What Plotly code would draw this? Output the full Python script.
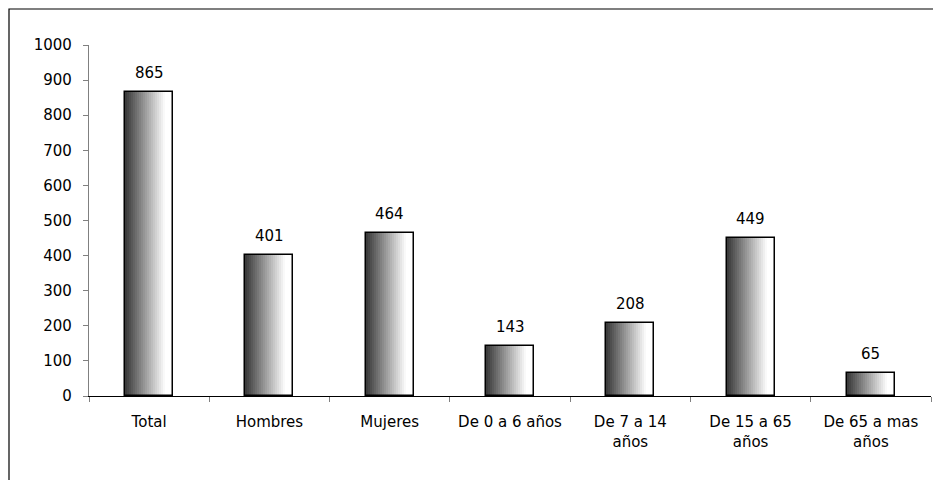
import plotly.graph_objects as go

categories = ["Total", "Hombres", "Mujeres", "De 0 a 6 años", "De 7 a 14<br>años",
              "De 15 a 65<br>años", "De 65 a mas<br>años"]
values = [865, 401, 464, 143, 208, 449, 65]
y_ticks = [0, 100, 200, 300, 400, 500, 600, 700, 800, 900, 1000]

FONT = "DejaVu Sans, Liberation Sans, Arial, sans-serif"
FS = 15
bw = 0.40
N = 24

fig = go.Figure()

# gradient strips (dark left -> white right)
for i in range(N):
    t = i / (N - 1)
    g = int(min(255, 0x3c + (255 - 0x3c) * min(1.0, t / 0.85)))
    col = f"rgb({g},{g},{g})"
    fig.add_trace(go.Bar(
        x=categories, y=values,
        width=bw / N * 1.15, offset=-bw / 2 + i * bw / N,
        marker=dict(color=col, line=dict(width=0)),
        hoverinfo="skip", showlegend=False,
    ))

# outline
fig.add_trace(go.Bar(
    x=categories, y=values, width=bw, offset=-bw / 2,
    marker=dict(color="rgba(0,0,0,0)", line=dict(color="black", width=1.5)),
    showlegend=False,
))

# value labels
for c, v in zip(categories, values):
    fig.add_annotation(x=c, y=v, text=str(v), showarrow=False, yanchor="bottom",
                       yshift=8, font=dict(family=FONT, size=FS, color="black"))

# plot-area pixel geometry (figure coordinates; page adds 8px body margin)
L, T, W, H = 81, 37, 842, 351

# outer border
fig.add_shape(type="rect", xref="paper", yref="paper",
              x0=(1 - L) / W, x1=1.2, y0=-0.6, y1=1 + (T - 1) / H,
              line=dict(color="black", width=1.2), fillcolor="rgba(0,0,0,0)", layer="below")

fig.update_layout(
    width=933, height=472,
    margin=dict(l=L, r=933 - L - W, t=T, b=472 - T - H),
    paper_bgcolor="white", plot_bgcolor="white",
    barmode="overlay", bargap=0,
    font=dict(family=FONT, size=FS, color="black"),
    xaxis=dict(type="category", showline=True, linecolor="black", linewidth=1.2,
               ticks="outside", tickson="boundaries", ticklen=5, tickcolor="#808080",
               ticklabelstandoff=12,
               tickfont=dict(family=FONT, size=FS, color="black"), showgrid=False),
    yaxis=dict(range=[0, 1000], tickvals=y_ticks, showline=True, linecolor="#808080",
               linewidth=1.2, ticks="outside", ticklen=5, tickcolor="#808080",
               ticklabelstandoff=8, showgrid=False, zeroline=False,
               tickfont=dict(family=FONT, size=FS, color="black")),
)

fig.write_html("out.html")
